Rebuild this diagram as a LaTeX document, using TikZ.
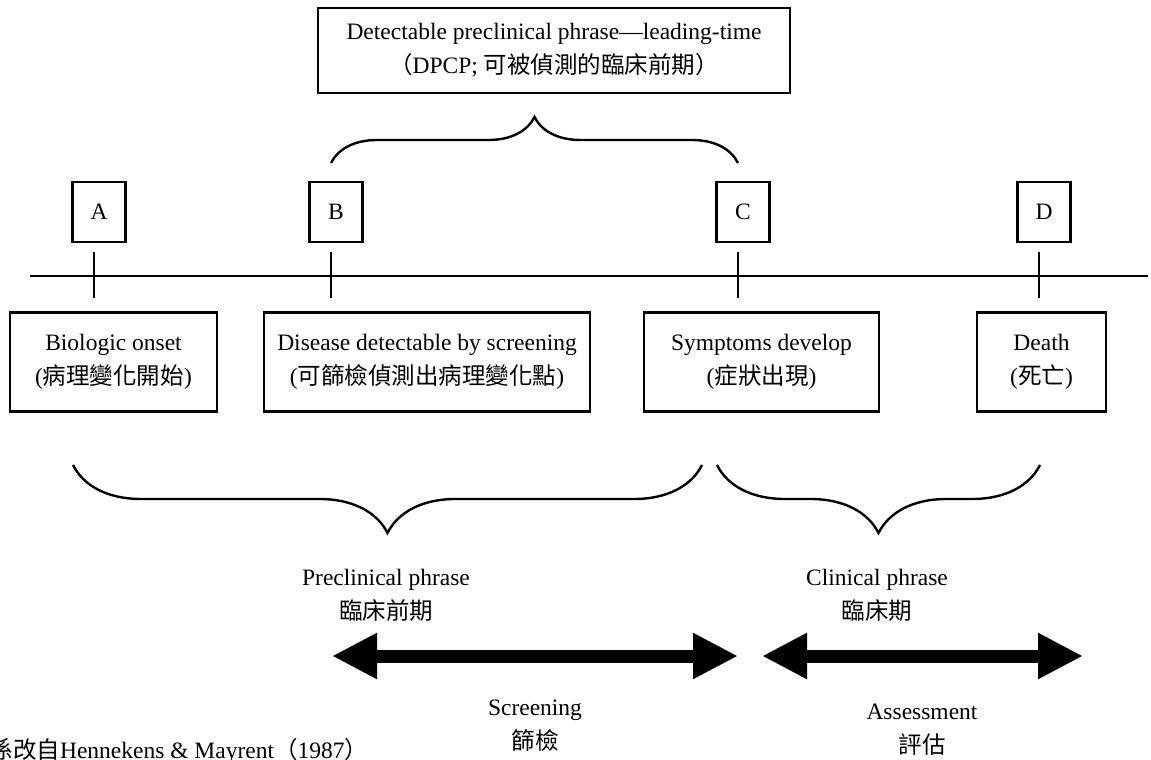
\documentclass[tikz,border=0pt]{standalone}
\usepackage{fontspec}
\setmainfont{Liberation Serif}
\newfontfamily\cjk{Noto Sans CJK TC}
\usetikzlibrary{arrows.meta,decorations.pathreplacing}

\begin{document}
\begin{tikzpicture}[x=1pt, y=-1pt, line width=2.4pt,
    every node/.style={font=\fontsize{23.5}{34}\selectfont, align=center},
    tag/.style={draw, minimum width=53pt, minimum height=60pt, inner sep=0pt},
    stage/.style={draw, minimum height=99pt, inner sep=0pt},
    curly/.style={decorate, decoration={brace, amplitude=#1}},
    span/.style={line width=13pt, {Triangle[width=43pt,length=45pt]}-{Triangle[width=43pt,length=45pt]}}]
    \useasboundingbox (0,0) rectangle (1151,760);
    % time line
    \coordinate (start) at (30,276);
    \coordinate (end) at (1148,276);
    \draw (start) -- (end);
    \foreach \n/\x in {a/94, b/331, c/738, d/1039} {
        \coordinate (\n top) at (\x,252);
        \coordinate (\n bot) at (\x,298);
        \draw (\n top) -- (\n bot);
    }
    \node[tag] (A) at (99,212) {A};
    \node[tag] (B) at (336,212) {B};
    \node[tag] (C) at (743,212) {C};
    \node[tag] (D) at (1044,212) {D};
    % events below the line
    \node[stage, minimum width=207pt] (onset) at (113.5,362) {Biologic onset\\({\cjk 病理變化開始})};
    \node[stage, minimum width=326pt] (detect) at (427,362) {Disease detectable by screening\\({\cjk 可篩檢偵測出病理變化點})};
    \node[stage, minimum width=235pt] (symptom) at (761.5,362) {Symptoms develop\\({\cjk 症狀出現})};
    \node[stage, minimum width=129pt] (death) at (1041.5,362) {Death\\({\cjk 死亡})};
    % leading time
    \node[draw, minimum width=472pt, minimum height=85pt, inner sep=0pt] (dpcp) at (554,50.5)
        {Detectable preclinical phrase—leading-time\\{\cjk （}DPCP; {\cjk 可被偵測的臨床前期）}};
    \coordinate (lead l) at (331,163);
    \coordinate (lead r) at (738,163);
    \draw[curly=46pt] (lead l) -- (lead r);
    % phases
    \coordinate (pre l) at (73,465);
    \coordinate (pre r) at (702,465);
    \coordinate (clin l) at (717,465);
    \coordinate (clin r) at (1040,465);
    \draw[curly=68pt] (pre r) -- (pre l);
    \draw[curly=68pt] (clin r) -- (clin l);
    \node (pre) at (386,595) {Preclinical phrase\\{\cjk 臨床前期}};
    \node (clin) at (877,595) {Clinical phrase\\{\cjk 臨床期}};
    % screening and assessment
    \coordinate (scr l) at (332,656);
    \coordinate (scr r) at (738,656);
    \coordinate (ass l) at (762,656);
    \coordinate (ass r) at (1083,656);
    \draw[span] (scr l) -- (scr r);
    \draw[span] (ass l) -- (ass r);
    \node (scr) at (535,726) {Screening\\{\cjk 篩檢}};
    \node (ass) at (922,730) {Assessment\\{\cjk 評估}};
    \node[anchor=base west] (src) at (-15,758) {{\cjk 係改自}Hennekens \& Mayrent{\cjk （}1987{\cjk ）}};
\end{tikzpicture}
\end{document}
